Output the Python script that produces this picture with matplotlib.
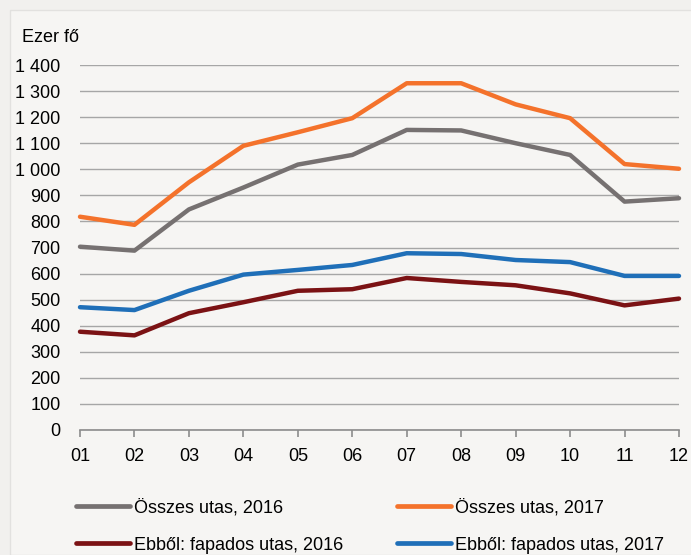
import matplotlib
matplotlib.use("Agg")
import matplotlib.pyplot as plt
from matplotlib.patches import Rectangle

months = ["01", "02", "03", "04", "05", "06", "07", "08", "09", "10", "11", "12"]
osszes_2016 = [703, 688, 846, 930, 1018, 1055, 1151, 1149, 1100, 1055, 876, 889]
osszes_2017 = [818, 787, 950, 1090, 1142, 1196, 1330, 1330, 1249, 1196, 1020, 1002]
fapados_2016 = [377, 363, 448, 490, 534, 540, 583, 568, 555, 524, 478, 504]
fapados_2017 = [471, 460, 534, 596, 614, 633, 678, 675, 652, 644, 591, 591]
yticks = [0, 100, 200, 300, 400, 500, 600, 700, 800, 900, 1000, 1100, 1200, 1300, 1400]
ytick_labels = ["0", "100", "200", "300", "400", "500", "600", "700", "800", "900",
                "1 000", "1 100", "1 200", "1 300", "1 400"]

plt.rcParams["font.family"] = ["Liberation Sans", "DejaVu Sans"]

bg = "#f6f5f3"
fig = plt.figure(figsize=(6.91, 5.55), dpi=100, facecolor="#f1f0ee")
# light inner panel with a faint border
fig.patches.append(Rectangle((10 / 691, 0), 1, 1 - 10 / 555, transform=fig.transFigure,
                             facecolor=bg, edgecolor="#e2e1df", lw=1, zorder=-5))
ax = fig.add_axes([80 / 691, 125 / 555, 599 / 691, 365 / 555], facecolor=bg)
ax.set_zorder(2)

x = list(range(1, 13))
style = dict(lw=3.2, solid_capstyle="round", clip_on=False)
l1, = ax.plot(x, osszes_2016, color="#767171", label="Összes utas, 2016", **style)
l2, = ax.plot(x, osszes_2017, color="#f4722b", label="Összes utas, 2017", **style)
l3, = ax.plot(x, fapados_2016, color="#7b1214", label="Ebből: fapados utas, 2016", **style)
l4, = ax.plot(x, fapados_2017, color="#1f6fb8", label="Ebből: fapados utas, 2017", **style)

ax.set_xlim(1, 12)
ax.set_ylim(0, 1400)
ax.set_yticks(yticks)
ax.set_yticklabels(ytick_labels)
ax.set_xticks(x)
ax.set_xticklabels(months)
ax.grid(axis="y", color="#a6a6a6", lw=1)
ax.set_axisbelow(True)
for s in ["top", "right", "left"]:
    ax.spines[s].set_visible(False)
ax.spines["bottom"].set_color("#8c8c8c")
ax.spines["bottom"].set_linewidth(1.2)
ax.tick_params(axis="y", length=0, pad=14, labelsize=13)
ax.tick_params(axis="x", direction="out", length=5, color="#8c8c8c", width=1.2, pad=8, labelsize=13)

fig.text(22 / 691, 1 - 38 / 555, "Ezer fő", fontsize=13, va="center", ha="left")

# row-major order: gray, orange / red, blue
handles = [l1, l3, l2, l4]
leg = fig.legend(handles, [h.get_label() for h in handles], ncol=2, loc="upper left",
                 bbox_to_anchor=(76 / 691, 1 - 499 / 555), borderaxespad=0, borderpad=0,
                 frameon=False, fontsize=13, handlelength=3.0, handletextpad=0.2,
                 columnspacing=3.0, labelspacing=1.12)
leg.set_zorder(3)
for line in leg.get_lines():
    line.set_solid_capstyle("round")
    line.set_linewidth(3.4)

fig.savefig("out.png", dpi=100, facecolor=fig.get_facecolor())
